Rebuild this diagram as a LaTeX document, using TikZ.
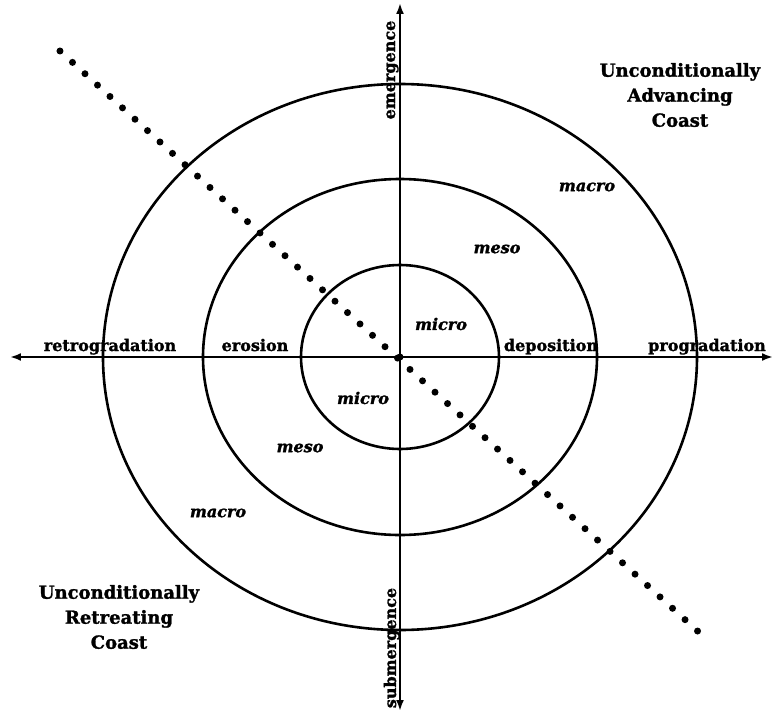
\documentclass[tikz,border=0pt]{standalone}
\usepackage{fontspec}
\setmainfont{DejaVu Serif}[BoldFeatures={FakeBold=1.5}, BoldItalicFeatures={FakeBold=1.5}]
\usetikzlibrary{arrows.meta}

\begin{document}
\begin{tikzpicture}[x=1pt, y=1pt,
  ring/.style={line width=2.6pt},
  axis/.style={line width=2.2pt, {Latex[length=11pt,width=8pt]}-{Latex[length=11pt,width=8pt]}},
  trend/.style={line width=7pt, line cap=round, dash pattern=on 0pt off 16.9pt},
  axlbl/.style={font=\fontsize{16}{16}\selectfont\bfseries, inner sep=1pt},
  scale lbl/.style={font=\fontsize{16}{16}\selectfont\bfseries\itshape, inner sep=1pt},
  coast/.style={font=\fontsize{18}{25}\selectfont\bfseries, align=center}]
  \useasboundingbox (-400,-356) rectangle (376,357);
  \coordinate (O) at (0,0);
  \coordinate (W) at (-390,0);
  \coordinate (E) at (373,0);
  \coordinate (N) at (0,354);
  \coordinate (S) at (0,-354);
  \coordinate (nw) at (-340,306);
  \coordinate (se) at (303,-279);
  \draw[ring] (O) ellipse [x radius=99, y radius=92];
  \draw[ring] (O) ellipse [x radius=197, y radius=178];
  \draw[ring] (O) ellipse [x radius=297, y radius=273];
  \draw[axis] (W) -- (E);
  \draw[axis] (S) -- (N);
  \fill (O) circle (3.5);
  \draw[trend] (nw) -- (se);
  \node[axlbl, anchor=base] (retro) at (-290,6) {retrogradation};
  \node[axlbl, anchor=base] (eros) at (-145,6) {erosion};
  \node[axlbl, anchor=base] (depo) at (151,6) {deposition};
  \node[axlbl, anchor=base] (progr) at (307,6) {progradation};
  \node[axlbl, rotate=90, anchor=base] (emerg) at (-5,287) {emergence};
  \node[axlbl, rotate=90, anchor=base] (subm) at (-4,-291) {submergence};
  \node[scale lbl] (macroNE) at (187,170) {macro};
  \node[scale lbl] (mesoNE) at (97,108) {meso};
  \node[scale lbl] (microNE) at (41,33) {micro};
  \node[scale lbl] (microSW) at (-37,-41) {micro};
  \node[scale lbl] (mesoSW) at (-100,-91) {meso};
  \node[scale lbl] (macroSW) at (-182,-156) {macro};
  \node[coast] (adv) at (280,262) {Unconditionally\\Advancing\\Coast};
  \node[coast] (retr) at (-281,-260) {Unconditionally\\Retreating\\Coast};
\end{tikzpicture}
\end{document}
